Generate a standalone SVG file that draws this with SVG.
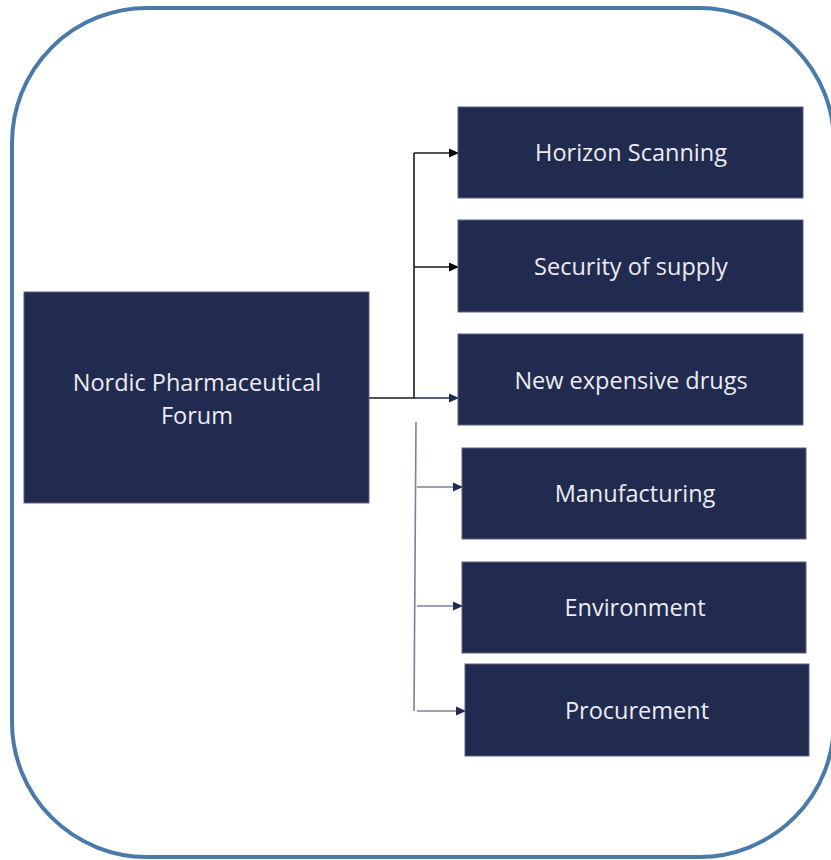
<svg xmlns="http://www.w3.org/2000/svg" width="831" height="860" viewBox="0 0 831 860">
<defs>
<style>
.box{fill:#212a4f;stroke:#5a6283;stroke-width:1}
.lbl{font-family:"Open Sans","Liberation Sans",sans-serif;font-size:23.5px;fill:#ececf2;text-anchor:middle}
.c1{fill:none;stroke:#1a1a1a;stroke-width:1.6}
.c2{fill:none;stroke:#22295a;stroke-width:1.4}
.c3{fill:none;stroke:#7c80a0;stroke-width:1.6}
</style>
<marker id="ab" markerWidth="10" markerHeight="10" refX="9" refY="5" orient="auto" markerUnits="userSpaceOnUse"><path d="M0,0.5 L10,5 L0,9.5 Z" fill="#000"/></marker>
<marker id="an" markerWidth="10" markerHeight="10" refX="9" refY="5" orient="auto" markerUnits="userSpaceOnUse"><path d="M0,0.5 L10,5 L0,9.5 Z" fill="#212a4f"/></marker>
</defs>
<rect x="12" y="8" width="822" height="849" rx="135" ry="135" fill="#fff" stroke="#4a7aa8" stroke-width="4"/>
<g id="connectors">
<path class="c1" d="M369,398 H414 V153"/>
<path class="c1" d="M414,153 H458" marker-end="url(#ab)"/>
<path class="c1" d="M414,267 H458" marker-end="url(#ab)"/>
<path class="c2" d="M414,398 H458" marker-end="url(#an)"/>
<path class="c3" d="M416,422 L414,711"/>
<path class="c3" d="M417,487 H462" marker-end="url(#an)"/>
<path class="c3" d="M417,606 H462" marker-end="url(#an)"/>
<path class="c3" d="M417,711 H465" marker-end="url(#an)"/>
</g>
<g id="nordic"><rect class="box" x="24" y="292" width="345" height="211"/><text class="lbl" x="197" y="391">Nordic Pharmaceutical</text><text class="lbl" x="197" y="424">Forum</text></g>
<g id="horizon"><rect class="box" x="458" y="107" width="345" height="91"/><text class="lbl" x="631" y="161">Horizon Scanning</text></g>
<g id="security"><rect class="box" x="458" y="220" width="345" height="92"/><text class="lbl" x="631" y="275">Security of supply</text></g>
<g id="newdrugs"><rect class="box" x="458" y="334" width="345" height="91"/><text class="lbl" x="631" y="389">New expensive drugs</text></g>
<g id="manufacturing"><rect class="box" x="462" y="448" width="344" height="91"/><text class="lbl" x="635" y="502">Manufacturing</text></g>
<g id="environment"><rect class="box" x="462" y="562" width="344" height="91"/><text class="lbl" x="635" y="616">Environment</text></g>
<g id="procurement"><rect class="box" x="465" y="664" width="344" height="92"/><text class="lbl" x="637" y="719">Procurement</text></g>
</svg>
